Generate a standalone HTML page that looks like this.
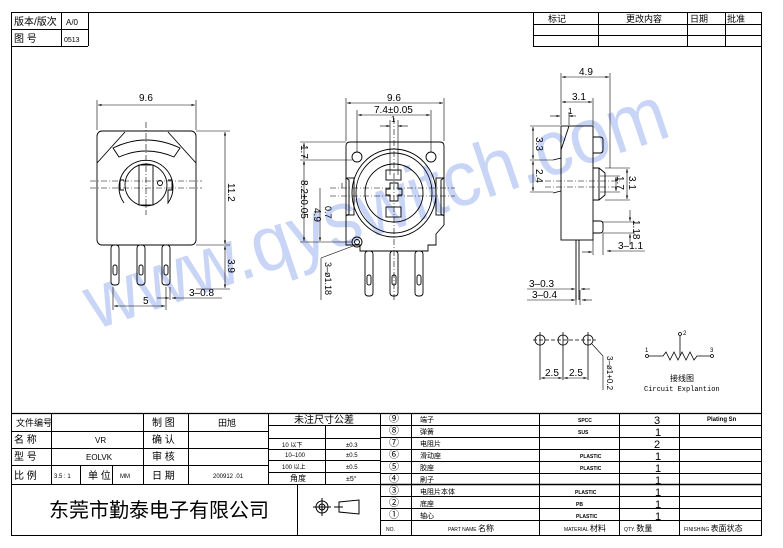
<!DOCTYPE html>
<html><head><meta charset="utf-8"><style>
html,body{margin:0;padding:0;background:#fff;}
svg{display:block;}
text{font-family:"Liberation Sans","Noto Sans CJK SC",sans-serif;fill:#000;}
</style></head><body>
<svg width="783" height="548" viewBox="0 0 783 548" xmlns="http://www.w3.org/2000/svg">
<defs>
<marker id="a" viewBox="0 0 10 10" refX="10" refY="5" markerWidth="6" markerHeight="6" orient="auto-start-reverse"><path d="M0,2 L10,5 L0,8z" fill="#000"/></marker>
</defs>
<!-- watermark -->
<text x="95" y="330" font-size="78" fill="#c9d5f6" style="fill:#c9d5f6" transform="rotate(-18.6 95 330)" textLength="610" lengthAdjust="spacingAndGlyphs">www.qyswitch.com</text>

<g fill="none" stroke="#000" stroke-width="1">
<!-- frame -->
<rect x="11.5" y="12.5" width="750" height="523"/>
<line x1="11" y1="29.5" x2="88" y2="29.5"/><line x1="11" y1="46.5" x2="88" y2="46.5"/>
<line x1="61.5" y1="12" x2="61.5" y2="46"/><line x1="88.5" y1="12" x2="88.5" y2="46"/>
<line x1="533" y1="24.5" x2="762" y2="24.5"/><line x1="533" y1="35.5" x2="762" y2="35.5"/><line x1="533" y1="46.5" x2="762" y2="46.5"/>
<line x1="533.5" y1="12" x2="533.5" y2="46"/><line x1="598.5" y1="12" x2="598.5" y2="46"/><line x1="687.5" y1="12" x2="687.5" y2="46"/><line x1="725.5" y1="12" x2="725.5" y2="46"/>

<!-- title block -->
<line x1="11" y1="413.5" x2="762" y2="413.5" stroke-width="1.3"/>
<line x1="11" y1="431.5" x2="268" y2="431.5"/><line x1="11" y1="448.5" x2="268" y2="448.5"/><line x1="11" y1="465.5" x2="268" y2="465.5"/><line x1="11" y1="484.5" x2="380" y2="484.5"/>
<line x1="51.5" y1="413" x2="51.5" y2="484"/><line x1="80.5" y1="465" x2="80.5" y2="484"/><line x1="112.5" y1="465" x2="112.5" y2="484"/><line x1="143.5" y1="413" x2="143.5" y2="484"/><line x1="188.5" y1="413" x2="188.5" y2="484"/><line x1="268.5" y1="413" x2="268.5" y2="484"/>
<line x1="297.5" y1="484" x2="297.5" y2="535"/>
<line x1="268" y1="425.5" x2="380" y2="425.5"/><line x1="268" y1="438.5" x2="380" y2="438.5"/><line x1="268" y1="449.5" x2="380" y2="449.5"/><line x1="268" y1="460.5" x2="380" y2="460.5"/><line x1="268" y1="472.5" x2="380" y2="472.5"/>
<line x1="325.5" y1="425" x2="325.5" y2="484"/>
<line x1="380.5" y1="413" x2="380.5" y2="535"/>
<line x1="411.5" y1="413" x2="411.5" y2="535"/><line x1="539.5" y1="413" x2="539.5" y2="535"/><line x1="619.5" y1="413" x2="619.5" y2="535"/><line x1="679.5" y1="413" x2="679.5" y2="535"/>
<line x1="380" y1="425.5" x2="762" y2="425.5"/><line x1="380" y1="437.5" x2="762" y2="437.5"/><line x1="380" y1="449.5" x2="762" y2="449.5"/><line x1="380" y1="461.5" x2="762" y2="461.5"/><line x1="380" y1="473.5" x2="762" y2="473.5"/><line x1="380" y1="484.5" x2="762" y2="484.5" stroke-width="1.5"/><line x1="380" y1="496.5" x2="762" y2="496.5"/><line x1="380" y1="508.5" x2="762" y2="508.5"/><line x1="380" y1="520.5" x2="762" y2="520.5"/>
<!-- projection symbol -->
<circle cx="322" cy="507" r="6"/><circle cx="322" cy="507" r="3"/><line x1="313" y1="507" x2="331" y2="507"/><line x1="322" y1="498" x2="322" y2="516"/>
<path d="M339,502 L359,500 L359,514 L339,512z"/><line x1="334" y1="507" x2="343" y2="507"/>
</g>

<g font-size="9">
<text x="14" y="25" font-size="10">版本/版次</text><text x="66" y="25" font-size="8">A/0</text>
<text x="14" y="42" font-size="10">图 号</text><text x="64" y="42" font-size="7">0513</text>
<text x="548" y="22">标记</text><text x="626" y="22">更改内容</text><text x="690" y="22">日期</text><text x="727" y="22">批准</text>
<text x="16" y="426">文件编号</text>
<text x="14" y="443" font-size="10">名 称</text><text x="95" y="443" font-size="8">VR</text>
<text x="14" y="460" font-size="10">型 号</text><text x="86" y="460" font-size="8">EOLVK</text>
<text x="14" y="479" font-size="10">比 例</text><text x="54" y="478" font-size="6">3.5 : 1</text><text x="88" y="479" font-size="10">单 位</text><text x="120" y="478" font-size="6">MM</text>
<text x="152" y="426" font-size="10">制 图</text><text x="152" y="443" font-size="10">确 认</text><text x="152" y="460" font-size="10">审 核</text><text x="152" y="479" font-size="10">日 期</text>
<text x="218" y="426">田旭</text><text x="213" y="478" font-size="6">200912 .01</text>
<text x="294" y="423" font-size="10">未注尺寸公差</text>
<text x="282" y="447" font-size="6">10  以下</text><text x="346" y="447" font-size="6">±0.3</text>
<text x="285" y="457" font-size="6">10–100</text><text x="346" y="457" font-size="6">±0.5</text>
<text x="282" y="469" font-size="6">100   以上</text><text x="346" y="469" font-size="6">±0.5</text>
<text x="290" y="481" font-size="8">角度</text><text x="346" y="481" font-size="7">±5°</text>
<text x="49" y="517" font-size="20">东莞市勤泰电子有限公司</text>
</g>
<g font-size="7">
<text x="389" y="422" font-size="10">⑨</text><text x="389" y="434" font-size="10">⑧</text><text x="389" y="446" font-size="10">⑦</text><text x="389" y="458" font-size="10">⑥</text><text x="389" y="470" font-size="10">⑤</text><text x="389" y="482" font-size="10">④</text><text x="389" y="494" font-size="10">③</text><text x="389" y="506" font-size="10">②</text><text x="389" y="518" font-size="10">①</text>
<text x="420" y="422">端子</text><text x="420" y="434">弹簧</text><text x="420" y="446">电阻片</text><text x="420" y="458">滑动座</text><text x="420" y="470">胶座</text><text x="420" y="482">刷子</text><text x="420" y="494">电阻片本体</text><text x="420" y="506">底座</text><text x="420" y="518">轴心</text>
<text x="578" y="422" font-size="5" font-weight="bold">SPCC</text><text x="578" y="434" font-size="5" font-weight="bold">SUS</text>
<text x="580" y="458" font-size="5" font-weight="bold">PLASTIC</text><text x="580" y="470" font-size="5" font-weight="bold">PLASTIC</text><text x="575" y="494" font-size="5" font-weight="bold">PLASTIC</text><text x="576" y="506" font-size="5" font-weight="bold">PB</text><text x="576" y="518" font-size="5" font-weight="bold">PLASTIC</text>
<text x="654" y="424" font-size="11">3</text><text x="655" y="436" font-size="11">1</text><text x="654" y="448" font-size="11">2</text><text x="655" y="460" font-size="11">1</text><text x="655" y="472" font-size="11">1</text><text x="655" y="484" font-size="11">1</text><text x="655" y="496" font-size="11">1</text><text x="655" y="508" font-size="11">1</text><text x="655" y="520" font-size="11">1</text>
<text x="707" y="421" font-size="6" font-weight="bold">Plating  Sn</text>
<text x="386" y="531" font-size="5">NO.</text><text x="448" y="531" font-size="5">PART  NAME <tspan font-size="8">名称</tspan></text><text x="564" y="531" font-size="5">MATERIAL <tspan font-size="8">材料</tspan></text><text x="624" y="531" font-size="5">QTY. <tspan font-size="8">数量</tspan></text><text x="684" y="531" font-size="5">FINISHING <tspan font-size="8">表面状态</tspan></text>
</g>

<!-- FRONT VIEW -->
<g fill="none" stroke="#000" stroke-width="0.9">
<rect x="97" y="131" width="99" height="114" rx="5"/>
<line x1="97" y1="163" x2="125" y2="132"/><line x1="196" y1="163" x2="168" y2="132"/>
<path d="M113,148 Q146,132 180,148 L174,157 Q146,145 119,157z"/>
<path d="M124,203 A27,27 0 1 1 168,203 L168,190 L172,190 L172,180 L168,180" /><path d="M124,180 L120,180 L120,190 L124,190"/>
<circle cx="146" cy="185" r="21"/>
<rect x="139" y="165" width="14" height="40"/>
<circle cx="160" cy="183" r="2.5"/>
<rect x="111" y="245" width="8" height="40" rx="3"/><rect x="137" y="245" width="8" height="40" rx="3"/><rect x="162" y="245" width="8" height="40" rx="3"/>
<rect x="113" y="265" width="4" height="10" rx="2"/><rect x="139" y="265" width="4" height="10" rx="2"/><rect x="164" y="265" width="4" height="10" rx="2"/>
</g>
<g stroke="#000" stroke-width="0.6" fill="none">
<line x1="90" y1="181" x2="202" y2="181" stroke-dasharray="6,2,1,2"/><line x1="90" y1="188" x2="202" y2="188" stroke-dasharray="6,2,1,2"/>
<line x1="146" y1="122" x2="146" y2="215" stroke-dasharray="6,2,1,2"/>
<line x1="97" y1="100" x2="97" y2="130"/><line x1="196" y1="100" x2="196" y2="130"/>
<line x1="98" y1="105" x2="195" y2="105" marker-start="url(#a)" marker-end="url(#a)"/>
<line x1="196" y1="131" x2="230" y2="131"/><line x1="196" y1="245" x2="230" y2="245"/><line x1="196" y1="289" x2="230" y2="289"/>
<line x1="225" y1="132" x2="225" y2="244" marker-start="url(#a)" marker-end="url(#a)"/>
<line x1="225" y1="246" x2="225" y2="288" marker-start="url(#a)" marker-end="url(#a)"/>
<line x1="113" y1="287" x2="113" y2="310"/><line x1="166" y1="287" x2="166" y2="310"/>
<line x1="114" y1="306" x2="165" y2="306" marker-start="url(#a)" marker-end="url(#a)"/>
<line x1="170" y1="287" x2="170" y2="300"/><line x1="157" y1="298" x2="169" y2="298" marker-end="url(#a)"/><line x1="172" y1="298" x2="222" y2="298" marker-start="url(#a)"/>
</g>
<g font-size="10">
<text x="139" y="101">9.6</text>
<text x="228" y="183" transform="rotate(90 228 183)">11.2</text>
<text x="228" y="259" transform="rotate(90 228 259)">3.9</text>
<text x="143" y="304">5</text><text x="189" y="296">3–0.8</text>
</g>

<!-- MIDDLE VIEW -->
<g fill="none" stroke="#000" stroke-width="0.9">
<path d="M350,142 L440,142 Q444,142 444,146 L444,178 L441,180 L441,214 L444,216 L444,225 L436,234 L436,245 L428,245 L428,251 L360,251 L360,245 L346,245 L346,216 L349,214 L349,180 L346,178 L346,146 Q346,142 350,142z"/>
<rect x="346" y="178" width="8" height="37"/><rect x="436" y="178" width="8" height="37"/>
<circle cx="357" cy="157" r="5"/><circle cx="431" cy="157" r="5"/>
<ellipse cx="394" cy="193" rx="42" ry="44"/>
<ellipse cx="394" cy="193" rx="38" ry="40"/>
<circle cx="394" cy="193" r="29"/>
<rect x="386" y="170" width="15" height="10"/><rect x="386" y="207" width="15" height="10"/>
<path d="M390,183 h8 v6 h4 v6 h-4 v6 h-8 v-6 h-4 v-6 h4z"/>
<circle cx="357" cy="242" r="5"/><circle cx="357" cy="242" r="2.5"/>
<rect x="365" y="251" width="8" height="45" rx="3"/><rect x="390" y="251" width="8" height="45" rx="3"/><rect x="415" y="251" width="8" height="45" rx="3"/>
<rect x="367" y="275" width="4" height="10" rx="2"/><rect x="392" y="275" width="4" height="10" rx="2"/><rect x="417" y="275" width="4" height="10" rx="2"/>
</g>
<g stroke="#000" stroke-width="0.6" fill="none">
<line x1="330" y1="188" x2="455" y2="188" stroke-dasharray="6,2,1,2"/><line x1="330" y1="196" x2="455" y2="196" stroke-dasharray="6,2,1,2"/>
<line x1="394" y1="118" x2="394" y2="300" stroke-dasharray="6,2,1,2"/>
<line x1="346" y1="98" x2="346" y2="141"/><line x1="444" y1="98" x2="444" y2="141"/>
<line x1="347" y1="103" x2="443" y2="103" marker-start="url(#a)" marker-end="url(#a)"/>
<line x1="357" y1="110" x2="357" y2="152"/><line x1="431" y1="110" x2="431" y2="152"/>
<line x1="358" y1="115" x2="430" y2="115" marker-start="url(#a)" marker-end="url(#a)"/>
<line x1="380" y1="126" x2="390" y2="126" marker-end="url(#a)"/><line x1="408" y1="126" x2="398" y2="126" marker-end="url(#a)"/>
<line x1="390" y1="120" x2="390" y2="175"/><line x1="398" y1="120" x2="398" y2="175"/>
<line x1="300" y1="142" x2="346" y2="142"/><line x1="300" y1="160" x2="352" y2="160"/><line x1="300" y1="242" x2="352" y2="242"/>
<line x1="304" y1="143" x2="304" y2="159" marker-start="url(#a)" marker-end="url(#a)"/>
<line x1="304" y1="161" x2="304" y2="241" marker-start="url(#a)" marker-end="url(#a)"/>
<line x1="320" y1="188" x2="320" y2="241" marker-end="url(#a)"/>
<line x1="342" y1="183" x2="342" y2="188"/>
<line x1="353" y1="246" x2="321" y2="258"/><line x1="321" y1="258" x2="321" y2="300"/>
</g>
<g font-size="10">
<text x="387" y="101">9.6</text><text x="374" y="113">7.4±0.05</text><text x="391" y="122" font-size="8">1</text>
<text x="301" y="145" transform="rotate(90 301 145)">1.7</text>
<text x="301" y="180" transform="rotate(90 301 180)">8.2±0.05</text>
<text x="314" y="208" transform="rotate(90 314 208)">4.9</text>
<text x="325" y="206" transform="rotate(90 325 206)" font-size="9">0.7</text>
<text x="325" y="262" transform="rotate(90 325 262)" font-size="9">3–ø1.18</text>
</g>

<!-- SIDE VIEW -->
<g fill="none" stroke="#000" stroke-width="0.9">
<rect x="561" y="126" width="32" height="114"/>
<path d="M593,137 h7 q3,0 3,3 v10 q0,3 -3,3 h-7"/>
<path d="M593,168 h6 l6,5 v22 l-6,5 h-6"/><line x1="599" y1="168" x2="599" y2="200"/>
<path d="M593,221 h7 q3,0 3,3 v6 q0,3 -3,3 h-7"/>
<path d="M569,126 L561,150 L561,158 L553,160"/><path d="M561,191 L553,193"/>
<line x1="576" y1="240" x2="576" y2="300"/><line x1="579" y1="240" x2="579" y2="300"/>
</g>
<g stroke="#000" stroke-width="0.6" fill="none">
<line x1="545" y1="181" x2="620" y2="181" stroke-dasharray="6,2,1,2"/><line x1="545" y1="187" x2="620" y2="187" stroke-dasharray="6,2,1,2"/>
<line x1="561" y1="73" x2="561" y2="125"/><line x1="610" y1="73" x2="610" y2="168"/><line x1="593" y1="98" x2="593" y2="125"/>
<line x1="562" y1="77" x2="609" y2="77" marker-start="url(#a)" marker-end="url(#a)"/>
<line x1="562" y1="102" x2="592" y2="102" marker-start="url(#a)" marker-end="url(#a)"/>
<line x1="550" y1="116" x2="560" y2="116" marker-end="url(#a)"/><line x1="576" y1="116" x2="569" y2="116" marker-end="url(#a)"/><line x1="569" y1="112" x2="569" y2="125"/>
<line x1="530" y1="126" x2="560" y2="126"/><line x1="530" y1="160" x2="553" y2="160"/><line x1="530" y1="192" x2="553" y2="192"/>
<line x1="533" y1="127" x2="533" y2="159" marker-start="url(#a)" marker-end="url(#a)"/>
<line x1="533" y1="161" x2="533" y2="191" marker-start="url(#a)" marker-end="url(#a)"/>
<line x1="605" y1="168" x2="630" y2="168"/><line x1="605" y1="200" x2="630" y2="200"/>
<line x1="600" y1="176" x2="620" y2="176"/><line x1="600" y1="192" x2="620" y2="192"/>
<line x1="627" y1="169" x2="627" y2="199" marker-start="url(#a)" marker-end="url(#a)"/>
<line x1="616" y1="177" x2="616" y2="191" marker-start="url(#a)" marker-end="url(#a)"/>
<line x1="603" y1="222" x2="635" y2="222"/><line x1="603" y1="233" x2="635" y2="233"/>
<line x1="630" y1="210" x2="630" y2="221" marker-end="url(#a)"/><line x1="630" y1="245" x2="630" y2="234" marker-end="url(#a)"/>
<line x1="603" y1="233" x2="603" y2="255"/><line x1="607" y1="251" x2="645" y2="251" marker-start="url(#a)"/>
<line x1="593" y1="240" x2="593" y2="255"/><line x1="582" y1="252" x2="592" y2="252" marker-end="url(#a)"/>
<line x1="576" y1="290" x2="576" y2="305"/><line x1="580" y1="290" x2="580" y2="305"/>
<line x1="527" y1="289" x2="575" y2="289" marker-end="url(#a)"/><line x1="590" y1="289" x2="581" y2="289" marker-end="url(#a)"/>
<line x1="527" y1="300" x2="575" y2="300" marker-end="url(#a)"/><line x1="592" y1="300" x2="582" y2="300" marker-end="url(#a)"/>
</g>
<g font-size="10">
<text x="579" y="75">4.9</text><text x="572" y="100">3.1</text><text x="568" y="114" font-size="8">1</text>
<text x="536" y="137" transform="rotate(90 536 137)">3.3</text>
<text x="536" y="169" transform="rotate(90 536 169)">2.4</text>
<text x="629" y="176" transform="rotate(90 629 176)">3.1</text>
<text x="617" y="176" transform="rotate(90 617 176)">1.7</text>
<text x="633" y="220" transform="rotate(90 633 220)">1.18</text>
<text x="618" y="249">3–1.1</text>
<text x="529" y="287">3–0.3</text><text x="532" y="298">3–0.4</text>
</g>

<!-- PIN LAYOUT -->
<g fill="none" stroke="#000" stroke-width="0.8">
<circle cx="540" cy="340" r="5"/><circle cx="563" cy="340" r="5"/><circle cx="588" cy="340" r="5"/>
<line x1="533" y1="340" x2="596" y2="340" stroke-dasharray="4,2"/>
<line x1="540" y1="332" x2="540" y2="380"/><line x1="563" y1="332" x2="563" y2="380"/><line x1="588" y1="332" x2="588" y2="380"/>
<line x1="541" y1="378" x2="562" y2="378" stroke-width="0.6" marker-start="url(#a)" marker-end="url(#a)"/>
<line x1="564" y1="378" x2="587" y2="378" stroke-width="0.6" marker-start="url(#a)" marker-end="url(#a)"/>
<line x1="592" y1="344" x2="603" y2="356" stroke-width="0.6"/><line x1="603" y1="356" x2="603" y2="390" stroke-width="0.6"/>
<circle cx="647" cy="356" r="1.5"/><circle cx="712" cy="356" r="1.5"/><circle cx="680" cy="334" r="1.5"/>
<path d="M649,356 L663,356 L666,352 L670,360 L674,352 L678,360 L680,356 L682,352 L686,360 L690,352 L694,360 L697,356 L710,356"/>
<line x1="680" y1="336" x2="680" y2="356"/>
</g>
<g font-size="10">
<text x="545" y="376">2.5</text><text x="569" y="376">2.5</text>
<text x="607" y="356" transform="rotate(90 607 356)" font-size="8">3–ø1+0.2</text>
<text x="645" y="352" font-size="6">1</text><text x="683" y="335" font-size="6">2</text><text x="710" y="352" font-size="6">3</text>
<text x="670" y="381" font-size="8" fill="#444">接线图</text>
<text x="644" y="391" font-size="7" style="font-family:'Liberation Mono',monospace" fill="#444">Circuit Explantion</text>
</g>
</svg>
</body></html>
